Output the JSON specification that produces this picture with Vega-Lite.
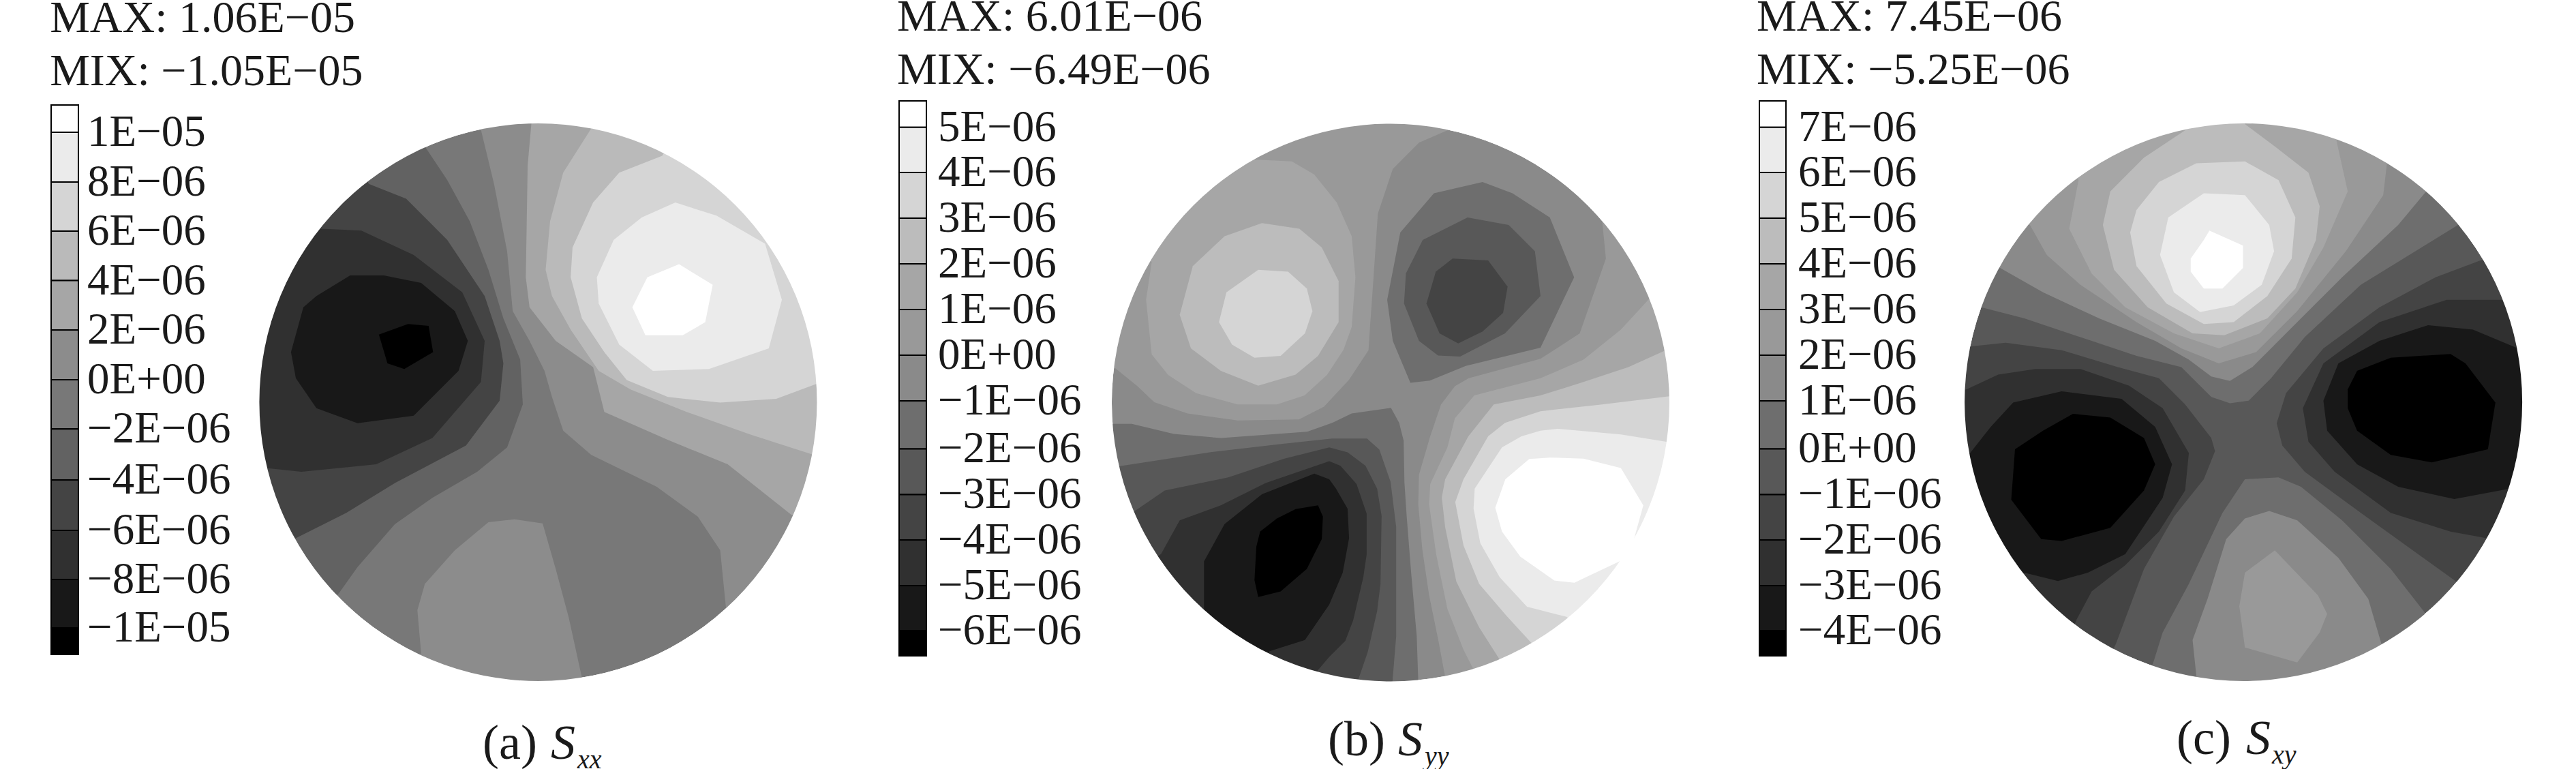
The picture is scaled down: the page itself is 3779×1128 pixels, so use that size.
{"$schema":"https://vega.github.io/schema/vega-lite/v6.json","background":"#ffffff","padding":0,"spacing":0,"bounds":"flush","resolve":{"scale":{"fill":"independent","x":"independent","y":"independent"}},"config":{"view":{"stroke":null},"concat":{"spacing":0}},
"datasets":{
"a":[
{"p":1,"l":"-4E-06","x":480,"y":100},{"p":1,"l":"-4E-06","x":540,"y":190},{"p":1,"l":"-4E-06","x":600,"y":300},{"p":1,"l":"-4E-06","x":650,"y":430},{"p":1,"l":"-4E-06","x":690,"y":560},{"p":1,"l":"-4E-06","x":735,"y":670},{"p":1,"l":"-4E-06","x":742,"y":790},{"p":1,"l":"-4E-06","x":700,"y":905},{"p":1,"l":"-4E-06","x":620,"y":970},{"p":1,"l":"-4E-06","x":500,"y":1040},{"p":1,"l":"-4E-06","x":400,"y":1110},{"p":1,"l":"-4E-06","x":300,"y":1225},{"p":1,"l":"-4E-06","x":250,"y":1295},{"p":1,"l":"-4E-06","x":200,"y":1340},{"p":1,"l":"-4E-06","x":82,"y":1189},{"p":1,"l":"-4E-06","x":1,"y":994},{"p":1,"l":"-4E-06","x":-27,"y":784},{"p":1,"l":"-4E-06","x":1,"y":574},{"p":1,"l":"-4E-06","x":82,"y":379},{"p":1,"l":"-4E-06","x":210,"y":211},{"p":1,"l":"-4E-06","x":378,"y":83},{"p":1,"l":"-4E-06","x":450,"y":40},
{"p":2,"l":"-6E-06","x":300,"y":140},{"p":2,"l":"-6E-06","x":330,"y":200},{"p":2,"l":"-6E-06","x":430,"y":240},{"p":2,"l":"-6E-06","x":540,"y":350},{"p":2,"l":"-6E-06","x":640,"y":500},{"p":2,"l":"-6E-06","x":680,"y":620},{"p":2,"l":"-6E-06","x":690,"y":680},{"p":2,"l":"-6E-06","x":680,"y":780},{"p":2,"l":"-6E-06","x":590,"y":900},{"p":2,"l":"-6E-06","x":400,"y":1000},{"p":2,"l":"-6E-06","x":270,"y":1080},{"p":2,"l":"-6E-06","x":140,"y":1145},{"p":2,"l":"-6E-06","x":70,"y":1180},{"p":2,"l":"-6E-06","x":1,"y":994},{"p":2,"l":"-6E-06","x":-27,"y":784},{"p":2,"l":"-6E-06","x":1,"y":574},{"p":2,"l":"-6E-06","x":82,"y":379},{"p":2,"l":"-6E-06","x":210,"y":211},
{"p":3,"l":"-8E-06","x":130,"y":290},{"p":3,"l":"-8E-06","x":200,"y":320},{"p":3,"l":"-8E-06","x":310,"y":325},{"p":3,"l":"-8E-06","x":450,"y":390},{"p":3,"l":"-8E-06","x":580,"y":490},{"p":3,"l":"-8E-06","x":640,"y":620},{"p":3,"l":"-8E-06","x":630,"y":730},{"p":3,"l":"-8E-06","x":500,"y":880},{"p":3,"l":"-8E-06","x":350,"y":950},{"p":3,"l":"-8E-06","x":150,"y":970},{"p":3,"l":"-8E-06","x":55,"y":960},{"p":3,"l":"-8E-06","x":-5,"y":950},{"p":3,"l":"-8E-06","x":-27,"y":784},{"p":3,"l":"-8E-06","x":1,"y":574},{"p":3,"l":"-8E-06","x":82,"y":379},
{"p":4,"l":"-1E-05","x":280,"y":445},{"p":4,"l":"-1E-05","x":370,"y":445},{"p":4,"l":"-1E-05","x":470,"y":465},{"p":4,"l":"-1E-05","x":560,"y":540},{"p":4,"l":"-1E-05","x":595,"y":620},{"p":4,"l":"-1E-05","x":570,"y":700},{"p":4,"l":"-1E-05","x":450,"y":820},{"p":4,"l":"-1E-05","x":300,"y":840},{"p":4,"l":"-1E-05","x":190,"y":800},{"p":4,"l":"-1E-05","x":135,"y":720},{"p":4,"l":"-1E-05","x":122,"y":650},{"p":4,"l":"-1E-05","x":155,"y":530},{"p":4,"l":"-1E-05","x":190,"y":500},
{"p":5,"l":"min","x":357,"y":603},{"p":5,"l":"min","x":435,"y":575},{"p":5,"l":"min","x":490,"y":580},{"p":5,"l":"min","x":502,"y":650},{"p":5,"l":"min","x":425,"y":695},{"p":5,"l":"min","x":380,"y":680},
{"p":6,"l":"0E+00","x":620,"y":-10},{"p":6,"l":"0E+00","x":630,"y":55},{"p":6,"l":"0E+00","x":665,"y":200},{"p":6,"l":"0E+00","x":700,"y":380},{"p":6,"l":"0E+00","x":715,"y":540},{"p":6,"l":"0E+00","x":760,"y":620},{"p":6,"l":"0E+00","x":800,"y":700},{"p":6,"l":"0E+00","x":820,"y":770},{"p":6,"l":"0E+00","x":850,"y":860},{"p":6,"l":"0E+00","x":925,"y":925},{"p":6,"l":"0E+00","x":1100,"y":1010},{"p":6,"l":"0E+00","x":1210,"y":1090},{"p":6,"l":"0E+00","x":1270,"y":1180},{"p":6,"l":"0E+00","x":1285,"y":1330},{"p":6,"l":"0E+00","x":1320,"y":1390},{"p":6,"l":"0E+00","x":1484,"y":1189},{"p":6,"l":"0E+00","x":1565,"y":994},{"p":6,"l":"0E+00","x":1593,"y":784},{"p":6,"l":"0E+00","x":1565,"y":574},{"p":6,"l":"0E+00","x":1484,"y":379},{"p":6,"l":"0E+00","x":1356,"y":211},{"p":6,"l":"0E+00","x":1188,"y":83},{"p":6,"l":"0E+00","x":993,"y":2},{"p":6,"l":"0E+00","x":783,"y":-26},
{"p":7,"l":"0E+00","x":470,"y":1455},{"p":7,"l":"0E+00","x":460,"y":1340},{"p":7,"l":"0E+00","x":480,"y":1270},{"p":7,"l":"0E+00","x":560,"y":1180},{"p":7,"l":"0E+00","x":650,"y":1105},{"p":7,"l":"0E+00","x":720,"y":1097},{"p":7,"l":"0E+00","x":795,"y":1108},{"p":7,"l":"0E+00","x":830,"y":1230},{"p":7,"l":"0E+00","x":865,"y":1360},{"p":7,"l":"0E+00","x":900,"y":1520},{"p":7,"l":"0E+00","x":915,"y":1585},{"p":7,"l":"0E+00","x":783,"y":1594},{"p":7,"l":"0E+00","x":573,"y":1566},{"p":7,"l":"0E+00","x":450,"y":1530},
{"p":8,"l":"2E-06","x":765,"y":-20},{"p":8,"l":"2E-06","x":765,"y":38},{"p":8,"l":"2E-06","x":755,"y":150},{"p":8,"l":"2E-06","x":750,"y":450},{"p":8,"l":"2E-06","x":760,"y":530},{"p":8,"l":"2E-06","x":830,"y":620},{"p":8,"l":"2E-06","x":930,"y":690},{"p":8,"l":"2E-06","x":960,"y":810},{"p":8,"l":"2E-06","x":1130,"y":885},{"p":8,"l":"2E-06","x":1290,"y":950},{"p":8,"l":"2E-06","x":1460,"y":1085},{"p":8,"l":"2E-06","x":1510,"y":1100},{"p":8,"l":"2E-06","x":1565,"y":994},{"p":8,"l":"2E-06","x":1593,"y":784},{"p":8,"l":"2E-06","x":1565,"y":574},{"p":8,"l":"2E-06","x":1484,"y":379},{"p":8,"l":"2E-06","x":1356,"y":211},{"p":8,"l":"2E-06","x":1188,"y":83},{"p":8,"l":"2E-06","x":993,"y":2},
{"p":9,"l":"4E-06","x":935,"y":-10},{"p":9,"l":"4E-06","x":925,"y":52},{"p":9,"l":"4E-06","x":850,"y":170},{"p":9,"l":"4E-06","x":815,"y":300},{"p":9,"l":"4E-06","x":803,"y":430},{"p":9,"l":"4E-06","x":820,"y":500},{"p":9,"l":"4E-06","x":870,"y":590},{"p":9,"l":"4E-06","x":945,"y":700},{"p":9,"l":"4E-06","x":1030,"y":750},{"p":9,"l":"4E-06","x":1180,"y":810},{"p":9,"l":"4E-06","x":1350,"y":870},{"p":9,"l":"4E-06","x":1520,"y":925},{"p":9,"l":"4E-06","x":1590,"y":950},{"p":9,"l":"4E-06","x":1593,"y":784},{"p":9,"l":"4E-06","x":1565,"y":574},{"p":9,"l":"4E-06","x":1484,"y":379},{"p":9,"l":"4E-06","x":1356,"y":211},{"p":9,"l":"4E-06","x":1188,"y":83},{"p":9,"l":"4E-06","x":1050,"y":10},
{"p":10,"l":"6E-06","x":1150,"y":70},{"p":10,"l":"6E-06","x":1115,"y":125},{"p":10,"l":"6E-06","x":1000,"y":170},{"p":10,"l":"6E-06","x":930,"y":250},{"p":10,"l":"6E-06","x":875,"y":370},{"p":10,"l":"6E-06","x":870,"y":450},{"p":10,"l":"6E-06","x":900,"y":560},{"p":10,"l":"6E-06","x":960,"y":650},{"p":10,"l":"6E-06","x":1020,"y":725},{"p":10,"l":"6E-06","x":1130,"y":770},{"p":10,"l":"6E-06","x":1270,"y":785},{"p":10,"l":"6E-06","x":1420,"y":775},{"p":10,"l":"6E-06","x":1528,"y":735},{"p":10,"l":"6E-06","x":1590,"y":720},{"p":10,"l":"6E-06","x":1565,"y":574},{"p":10,"l":"6E-06","x":1484,"y":379},{"p":10,"l":"6E-06","x":1356,"y":211},{"p":10,"l":"6E-06","x":1188,"y":83},
{"p":11,"l":"8E-06","x":1150,"y":250},{"p":11,"l":"8E-06","x":1260,"y":285},{"p":11,"l":"8E-06","x":1390,"y":360},{"p":11,"l":"8E-06","x":1435,"y":510},{"p":11,"l":"8E-06","x":1400,"y":640},{"p":11,"l":"8E-06","x":1240,"y":695},{"p":11,"l":"8E-06","x":1090,"y":700},{"p":11,"l":"8E-06","x":1000,"y":630},{"p":11,"l":"8E-06","x":945,"y":520},{"p":11,"l":"8E-06","x":940,"y":450},{"p":11,"l":"8E-06","x":985,"y":350},{"p":11,"l":"8E-06","x":1060,"y":290},
{"p":12,"l":"1E-05","x":1160,"y":415},{"p":12,"l":"1E-05","x":1250,"y":470},{"p":12,"l":"1E-05","x":1230,"y":570},{"p":12,"l":"1E-05","x":1170,"y":605},{"p":12,"l":"1E-05","x":1070,"y":605},{"p":12,"l":"1E-05","x":1035,"y":530},{"p":12,"l":"1E-05","x":1075,"y":450}
],
"b":[
{"p":1,"l":"0E+00","x":960,"y":-15},{"p":1,"l":"0E+00","x":940,"y":55},{"p":1,"l":"0E+00","x":860,"y":90},{"p":1,"l":"0E+00","x":790,"y":160},{"p":1,"l":"0E+00","x":750,"y":280},{"p":1,"l":"0E+00","x":735,"y":500},{"p":1,"l":"0E+00","x":729,"y":583},{"p":1,"l":"0E+00","x":725,"y":645},{"p":1,"l":"0E+00","x":673,"y":724},{"p":1,"l":"0E+00","x":606,"y":796},{"p":1,"l":"0E+00","x":539,"y":830},{"p":1,"l":"0E+00","x":375,"y":833},{"p":1,"l":"0E+00","x":241,"y":814},{"p":1,"l":"0E+00","x":152,"y":784},{"p":1,"l":"0E+00","x":107,"y":741},{"p":1,"l":"0E+00","x":44,"y":690},{"p":1,"l":"0E+00","x":-25,"y":680},{"p":1,"l":"0E+00","x":1,"y":574},{"p":1,"l":"0E+00","x":82,"y":379},{"p":1,"l":"0E+00","x":210,"y":211},{"p":1,"l":"0E+00","x":378,"y":83},{"p":1,"l":"0E+00","x":573,"y":2},{"p":1,"l":"0E+00","x":783,"y":-26},
{"p":2,"l":"1E-06","x":420,"y":135},{"p":2,"l":"1E-06","x":520,"y":140},{"p":2,"l":"1E-06","x":580,"y":175},{"p":2,"l":"1E-06","x":640,"y":250},{"p":2,"l":"1E-06","x":680,"y":340},{"p":2,"l":"1E-06","x":690,"y":450},{"p":2,"l":"1E-06","x":680,"y":583},{"p":2,"l":"1E-06","x":658,"y":644},{"p":2,"l":"1E-06","x":614,"y":711},{"p":2,"l":"1E-06","x":554,"y":766},{"p":2,"l":"1E-06","x":480,"y":790},{"p":2,"l":"1E-06","x":375,"y":790},{"p":2,"l":"1E-06","x":264,"y":760},{"p":2,"l":"1E-06","x":189,"y":711},{"p":2,"l":"1E-06","x":145,"y":656},{"p":2,"l":"1E-06","x":130,"y":510},{"p":2,"l":"1E-06","x":145,"y":410},{"p":2,"l":"1E-06","x":105,"y":340},{"p":2,"l":"1E-06","x":210,"y":211},{"p":2,"l":"1E-06","x":400,"y":75},
{"p":3,"l":"2E-06","x":440,"y":305},{"p":3,"l":"2E-06","x":540,"y":320},{"p":3,"l":"2E-06","x":600,"y":370},{"p":3,"l":"2E-06","x":645,"y":460},{"p":3,"l":"2E-06","x":645,"y":570},{"p":3,"l":"2E-06","x":590,"y":660},{"p":3,"l":"2E-06","x":530,"y":710},{"p":3,"l":"2E-06","x":430,"y":740},{"p":3,"l":"2E-06","x":330,"y":700},{"p":3,"l":"2E-06","x":250,"y":640},{"p":3,"l":"2E-06","x":220,"y":550},{"p":3,"l":"2E-06","x":255,"y":420},{"p":3,"l":"2E-06","x":340,"y":340},
{"p":4,"l":"3E-06","x":430,"y":430},{"p":4,"l":"3E-06","x":510,"y":435},{"p":4,"l":"3E-06","x":560,"y":480},{"p":4,"l":"3E-06","x":575,"y":540},{"p":4,"l":"3E-06","x":555,"y":600},{"p":4,"l":"3E-06","x":490,"y":660},{"p":4,"l":"3E-06","x":420,"y":665},{"p":4,"l":"3E-06","x":360,"y":630},{"p":4,"l":"3E-06","x":325,"y":570},{"p":4,"l":"3E-06","x":345,"y":490},
{"p":6,"l":"-2E-06","x":1030,"y":195},{"p":6,"l":"-2E-06","x":1110,"y":225},{"p":6,"l":"-2E-06","x":1210,"y":290},{"p":6,"l":"-2E-06","x":1275,"y":450},{"p":6,"l":"-2E-06","x":1185,"y":638},{"p":6,"l":"-2E-06","x":985,"y":687},{"p":6,"l":"-2E-06","x":889,"y":726},{"p":6,"l":"-2E-06","x":837,"y":732},{"p":6,"l":"-2E-06","x":790,"y":620},{"p":6,"l":"-2E-06","x":775,"y":510},{"p":6,"l":"-2E-06","x":810,"y":330},{"p":6,"l":"-2E-06","x":900,"y":225},
{"p":7,"l":"-3E-06","x":990,"y":290},{"p":7,"l":"-3E-06","x":1100,"y":310},{"p":7,"l":"-3E-06","x":1170,"y":380},{"p":7,"l":"-3E-06","x":1185,"y":500},{"p":7,"l":"-3E-06","x":1090,"y":600},{"p":7,"l":"-3E-06","x":970,"y":662},{"p":7,"l":"-3E-06","x":911,"y":659},{"p":7,"l":"-3E-06","x":860,"y":620},{"p":7,"l":"-3E-06","x":820,"y":520},{"p":7,"l":"-3E-06","x":825,"y":440},{"p":7,"l":"-3E-06","x":870,"y":350},
{"p":8,"l":"-4E-06","x":950,"y":400},{"p":8,"l":"-4E-06","x":1045,"y":405},{"p":8,"l":"-4E-06","x":1097,"y":475},{"p":8,"l":"-4E-06","x":1085,"y":545},{"p":8,"l":"-4E-06","x":1030,"y":595},{"p":8,"l":"-4E-06","x":965,"y":627},{"p":8,"l":"-4E-06","x":915,"y":600},{"p":8,"l":"-4E-06","x":880,"y":520},{"p":8,"l":"-4E-06","x":905,"y":435},
{"p":9,"l":"-2E-06","x":-20,"y":842},{"p":9,"l":"-2E-06","x":40,"y":842},{"p":9,"l":"-2E-06","x":92,"y":842},{"p":9,"l":"-2E-06","x":204,"y":869},{"p":9,"l":"-2E-06","x":331,"y":880},{"p":9,"l":"-2E-06","x":561,"y":863},{"p":9,"l":"-2E-06","x":628,"y":839},{"p":9,"l":"-2E-06","x":680,"y":814},{"p":9,"l":"-2E-06","x":785,"y":799},{"p":9,"l":"-2E-06","x":807,"y":839},{"p":9,"l":"-2E-06","x":819,"y":887},{"p":9,"l":"-2E-06","x":821,"y":997},{"p":9,"l":"-2E-06","x":827,"y":1088},{"p":9,"l":"-2E-06","x":839,"y":1240},{"p":9,"l":"-2E-06","x":854,"y":1410},{"p":9,"l":"-2E-06","x":858,"y":1528},{"p":9,"l":"-2E-06","x":865,"y":1590},{"p":9,"l":"-2E-06","x":783,"y":1594},{"p":9,"l":"-2E-06","x":573,"y":1566},{"p":9,"l":"-2E-06","x":378,"y":1485},{"p":9,"l":"-2E-06","x":210,"y":1357},{"p":9,"l":"-2E-06","x":82,"y":1189},{"p":9,"l":"-2E-06","x":1,"y":994},
{"p":10,"l":"-3E-06","x":-10,"y":960},{"p":10,"l":"-3E-06","x":60,"y":955},{"p":10,"l":"-3E-06","x":300,"y":918},{"p":10,"l":"-3E-06","x":500,"y":895},{"p":10,"l":"-3E-06","x":628,"y":881},{"p":10,"l":"-3E-06","x":721,"y":881},{"p":10,"l":"-3E-06","x":754,"y":911},{"p":10,"l":"-3E-06","x":784,"y":997},{"p":10,"l":"-3E-06","x":799,"y":1118},{"p":10,"l":"-3E-06","x":799,"y":1300},{"p":10,"l":"-3E-06","x":799,"y":1410},{"p":10,"l":"-3E-06","x":789,"y":1531},{"p":10,"l":"-3E-06","x":789,"y":1594},{"p":10,"l":"-3E-06","x":573,"y":1566},{"p":10,"l":"-3E-06","x":378,"y":1485},{"p":10,"l":"-3E-06","x":210,"y":1357},{"p":10,"l":"-3E-06","x":82,"y":1189},{"p":10,"l":"-3E-06","x":1,"y":994},
{"p":11,"l":"-4E-06","x":30,"y":1110},{"p":11,"l":"-4E-06","x":100,"y":1075},{"p":11,"l":"-4E-06","x":180,"y":1020},{"p":11,"l":"-4E-06","x":350,"y":985},{"p":11,"l":"-4E-06","x":500,"y":935},{"p":11,"l":"-4E-06","x":620,"y":905},{"p":11,"l":"-4E-06","x":669,"y":918},{"p":11,"l":"-4E-06","x":717,"y":954},{"p":11,"l":"-4E-06","x":748,"y":1015},{"p":11,"l":"-4E-06","x":760,"y":1088},{"p":11,"l":"-4E-06","x":757,"y":1270},{"p":11,"l":"-4E-06","x":748,"y":1343},{"p":11,"l":"-4E-06","x":723,"y":1452},{"p":11,"l":"-4E-06","x":698,"y":1525},{"p":11,"l":"-4E-06","x":690,"y":1590},{"p":11,"l":"-4E-06","x":573,"y":1566},{"p":11,"l":"-4E-06","x":378,"y":1485},{"p":11,"l":"-4E-06","x":210,"y":1357},{"p":11,"l":"-4E-06","x":82,"y":1189},
{"p":12,"l":"-5E-06","x":110,"y":1230},{"p":12,"l":"-5E-06","x":170,"y":1190},{"p":12,"l":"-5E-06","x":220,"y":1100},{"p":12,"l":"-5E-06","x":330,"y":1060},{"p":12,"l":"-5E-06","x":450,"y":1000},{"p":12,"l":"-5E-06","x":620,"y":942},{"p":12,"l":"-5E-06","x":650,"y":954},{"p":12,"l":"-5E-06","x":693,"y":1003},{"p":12,"l":"-5E-06","x":720,"y":1082},{"p":12,"l":"-5E-06","x":720,"y":1191},{"p":12,"l":"-5E-06","x":711,"y":1252},{"p":12,"l":"-5E-06","x":684,"y":1367},{"p":12,"l":"-5E-06","x":663,"y":1422},{"p":12,"l":"-5E-06","x":620,"y":1465},{"p":12,"l":"-5E-06","x":590,"y":1500},{"p":12,"l":"-5E-06","x":570,"y":1570},{"p":12,"l":"-5E-06","x":378,"y":1485},{"p":12,"l":"-5E-06","x":210,"y":1357},
{"p":13,"l":"-6E-06","x":620,"y":990},{"p":13,"l":"-6E-06","x":638,"y":1015},{"p":13,"l":"-6E-06","x":669,"y":1069},{"p":13,"l":"-6E-06","x":673,"y":1148},{"p":13,"l":"-6E-06","x":656,"y":1240},{"p":13,"l":"-6E-06","x":620,"y":1325},{"p":13,"l":"-6E-06","x":555,"y":1420},{"p":13,"l":"-6E-06","x":460,"y":1450},{"p":13,"l":"-6E-06","x":430,"y":1515},{"p":13,"l":"-6E-06","x":300,"y":1440},{"p":13,"l":"-6E-06","x":240,"y":1380},{"p":13,"l":"-6E-06","x":285,"y":1340},{"p":13,"l":"-6E-06","x":285,"y":1210},{"p":13,"l":"-6E-06","x":340,"y":1110},{"p":13,"l":"-6E-06","x":440,"y":1030},{"p":13,"l":"-6E-06","x":580,"y":975},
{"p":14,"l":"min","x":590,"y":1060},{"p":14,"l":"min","x":603,"y":1090},{"p":14,"l":"min","x":600,"y":1150},{"p":14,"l":"min","x":560,"y":1230},{"p":14,"l":"min","x":490,"y":1290},{"p":14,"l":"min","x":430,"y":1305},{"p":14,"l":"min","x":420,"y":1260},{"p":14,"l":"min","x":425,"y":1170},{"p":14,"l":"min","x":435,"y":1130},{"p":14,"l":"min","x":480,"y":1095},{"p":14,"l":"min","x":530,"y":1070},
{"p":15,"l":"0E+00","x":930,"y":1519},{"p":15,"l":"0E+00","x":912,"y":1422},{"p":15,"l":"0E+00","x":887,"y":1300},{"p":15,"l":"0E+00","x":869,"y":1179},{"p":15,"l":"0E+00","x":858,"y":1057},{"p":15,"l":"0E+00","x":860,"y":978},{"p":15,"l":"0E+00","x":890,"y":875},{"p":15,"l":"0E+00","x":919,"y":790},{"p":15,"l":"0E+00","x":956,"y":741},{"p":15,"l":"0E+00","x":993,"y":720},{"p":15,"l":"0E+00","x":1185,"y":668},{"p":15,"l":"0E+00","x":1290,"y":600},{"p":15,"l":"0E+00","x":1360,"y":400},{"p":15,"l":"0E+00","x":1350,"y":300},{"p":15,"l":"0E+00","x":1400,"y":250},{"p":15,"l":"0E+00","x":1484,"y":379},{"p":15,"l":"0E+00","x":1565,"y":574},{"p":15,"l":"0E+00","x":1593,"y":784},{"p":15,"l":"0E+00","x":1565,"y":994},{"p":15,"l":"0E+00","x":1484,"y":1189},{"p":15,"l":"0E+00","x":1356,"y":1357},{"p":15,"l":"0E+00","x":1188,"y":1485},{"p":15,"l":"0E+00","x":993,"y":1566},{"p":15,"l":"0E+00","x":945,"y":1590},
{"p":16,"l":"1E-06","x":1004,"y":1495},{"p":16,"l":"1E-06","x":979,"y":1446},{"p":16,"l":"1E-06","x":936,"y":1337},{"p":16,"l":"1E-06","x":906,"y":1191},{"p":16,"l":"1E-06","x":887,"y":1057},{"p":16,"l":"1E-06","x":890,"y":1003},{"p":16,"l":"1E-06","x":936,"y":905},{"p":16,"l":"1E-06","x":956,"y":827},{"p":16,"l":"1E-06","x":1008,"y":766},{"p":16,"l":"1E-06","x":1185,"y":720},{"p":16,"l":"1E-06","x":1300,"y":670},{"p":16,"l":"1E-06","x":1400,"y":590},{"p":16,"l":"1E-06","x":1478,"y":505},{"p":16,"l":"1E-06","x":1560,"y":480},{"p":16,"l":"1E-06","x":1593,"y":784},{"p":16,"l":"1E-06","x":1565,"y":994},{"p":16,"l":"1E-06","x":1484,"y":1189},{"p":16,"l":"1E-06","x":1356,"y":1357},{"p":16,"l":"1E-06","x":1188,"y":1485},{"p":16,"l":"1E-06","x":1030,"y":1560},
{"p":17,"l":"2E-06","x":1077,"y":1474},{"p":17,"l":"2E-06","x":1021,"y":1386},{"p":17,"l":"2E-06","x":960,"y":1264},{"p":17,"l":"2E-06","x":930,"y":1118},{"p":17,"l":"2E-06","x":921,"y":1039},{"p":17,"l":"2E-06","x":930,"y":990},{"p":17,"l":"2E-06","x":992,"y":875},{"p":17,"l":"2E-06","x":1060,"y":790},{"p":17,"l":"2E-06","x":1185,"y":766},{"p":17,"l":"2E-06","x":1300,"y":730},{"p":17,"l":"2E-06","x":1420,"y":690},{"p":17,"l":"2E-06","x":1520,"y":645},{"p":17,"l":"2E-06","x":1590,"y":630},{"p":17,"l":"2E-06","x":1593,"y":784},{"p":17,"l":"2E-06","x":1565,"y":994},{"p":17,"l":"2E-06","x":1484,"y":1189},{"p":17,"l":"2E-06","x":1356,"y":1357},{"p":17,"l":"2E-06","x":1188,"y":1485},{"p":17,"l":"2E-06","x":1110,"y":1530},
{"p":18,"l":"3E-06","x":1161,"y":1428},{"p":18,"l":"3E-06","x":1094,"y":1355},{"p":18,"l":"3E-06","x":1021,"y":1270},{"p":18,"l":"3E-06","x":979,"y":1167},{"p":18,"l":"3E-06","x":957,"y":1051},{"p":18,"l":"3E-06","x":979,"y":990},{"p":18,"l":"3E-06","x":1045,"y":875},{"p":18,"l":"3E-06","x":1090,"y":839},{"p":18,"l":"3E-06","x":1185,"y":808},{"p":18,"l":"3E-06","x":1350,"y":790},{"p":18,"l":"3E-06","x":1530,"y":768},{"p":18,"l":"3E-06","x":1595,"y":760},{"p":18,"l":"3E-06","x":1565,"y":994},{"p":18,"l":"3E-06","x":1484,"y":1189},{"p":18,"l":"3E-06","x":1356,"y":1357},{"p":18,"l":"3E-06","x":1210,"y":1470},
{"p":19,"l":"4E-06","x":1255,"y":1358},{"p":19,"l":"4E-06","x":1149,"y":1331},{"p":19,"l":"4E-06","x":1076,"y":1252},{"p":19,"l":"4E-06","x":1024,"y":1161},{"p":19,"l":"4E-06","x":1006,"y":1069},{"p":19,"l":"4E-06","x":1009,"y":1015},{"p":19,"l":"4E-06","x":1082,"y":905},{"p":19,"l":"4E-06","x":1134,"y":875},{"p":19,"l":"4E-06","x":1185,"y":860},{"p":19,"l":"4E-06","x":1230,"y":855},{"p":19,"l":"4E-06","x":1400,"y":870},{"p":19,"l":"4E-06","x":1522,"y":890},{"p":19,"l":"4E-06","x":1590,"y":900},{"p":19,"l":"4E-06","x":1565,"y":994},{"p":19,"l":"4E-06","x":1484,"y":1189},{"p":19,"l":"4E-06","x":1356,"y":1357},{"p":19,"l":"4E-06","x":1300,"y":1395},
{"p":20,"l":"5E-06","x":1155,"y":936},{"p":20,"l":"5E-06","x":1210,"y":932},{"p":20,"l":"5E-06","x":1300,"y":935},{"p":20,"l":"5E-06","x":1400,"y":960},{"p":20,"l":"5E-06","x":1460,"y":1060},{"p":20,"l":"5E-06","x":1435,"y":1150},{"p":20,"l":"5E-06","x":1500,"y":1160},{"p":20,"l":"5E-06","x":1450,"y":1260},{"p":20,"l":"5E-06","x":1400,"y":1208},{"p":20,"l":"5E-06","x":1313,"y":1249},{"p":20,"l":"5E-06","x":1276,"y":1267},{"p":20,"l":"5E-06","x":1222,"y":1261},{"p":20,"l":"5E-06","x":1131,"y":1197},{"p":20,"l":"5E-06","x":1082,"y":1130},{"p":20,"l":"5E-06","x":1064,"y":1066},{"p":20,"l":"5E-06","x":1091,"y":990}
],
"c":[
{"p":1,"l":"0E+00","x":10,"y":520},{"p":1,"l":"0E+00","x":85,"y":530},{"p":1,"l":"0E+00","x":200,"y":560},{"p":1,"l":"0E+00","x":350,"y":610},{"p":1,"l":"0E+00","x":500,"y":660},{"p":1,"l":"0E+00","x":620,"y":690},{"p":1,"l":"0E+00","x":700,"y":770},{"p":1,"l":"0E+00","x":750,"y":787},{"p":1,"l":"0E+00","x":800,"y":780},{"p":1,"l":"0E+00","x":860,"y":720},{"p":1,"l":"0E+00","x":950,"y":610},{"p":1,"l":"0E+00","x":1100,"y":470},{"p":1,"l":"0E+00","x":1360,"y":310},{"p":1,"l":"0E+00","x":1420,"y":270},{"p":1,"l":"0E+00","x":1356,"y":211},{"p":1,"l":"0E+00","x":1188,"y":83},{"p":1,"l":"0E+00","x":993,"y":2},{"p":1,"l":"0E+00","x":783,"y":-26},{"p":1,"l":"0E+00","x":573,"y":2},{"p":1,"l":"0E+00","x":378,"y":83},{"p":1,"l":"0E+00","x":210,"y":211},{"p":1,"l":"0E+00","x":82,"y":379},
{"p":2,"l":"1E-06","x":70,"y":395},{"p":2,"l":"1E-06","x":135,"y":425},{"p":2,"l":"1E-06","x":250,"y":490},{"p":2,"l":"1E-06","x":400,"y":560},{"p":2,"l":"1E-06","x":550,"y":620},{"p":2,"l":"1E-06","x":640,"y":670},{"p":2,"l":"1E-06","x":700,"y":715},{"p":2,"l":"1E-06","x":750,"y":727},{"p":2,"l":"1E-06","x":810,"y":690},{"p":2,"l":"1E-06","x":900,"y":600},{"p":2,"l":"1E-06","x":1050,"y":450},{"p":2,"l":"1E-06","x":1200,"y":310},{"p":2,"l":"1E-06","x":1275,"y":220},{"p":2,"l":"1E-06","x":1330,"y":185},{"p":2,"l":"1E-06","x":1188,"y":83},{"p":2,"l":"1E-06","x":993,"y":2},{"p":2,"l":"1E-06","x":783,"y":-26},{"p":2,"l":"1E-06","x":573,"y":2},{"p":2,"l":"1E-06","x":378,"y":83},{"p":2,"l":"1E-06","x":210,"y":211},
{"p":3,"l":"2E-06","x":160,"y":270},{"p":3,"l":"2E-06","x":215,"y":310},{"p":3,"l":"2E-06","x":260,"y":390},{"p":3,"l":"2E-06","x":350,"y":470},{"p":3,"l":"2E-06","x":500,"y":570},{"p":3,"l":"2E-06","x":620,"y":640},{"p":3,"l":"2E-06","x":720,"y":680},{"p":3,"l":"2E-06","x":820,"y":650},{"p":3,"l":"2E-06","x":930,"y":540},{"p":3,"l":"2E-06","x":1060,"y":380},{"p":3,"l":"2E-06","x":1160,"y":230},{"p":3,"l":"2E-06","x":1170,"y":145},{"p":3,"l":"2E-06","x":1210,"y":90},{"p":3,"l":"2E-06","x":993,"y":2},{"p":3,"l":"2E-06","x":783,"y":-26},{"p":3,"l":"2E-06","x":573,"y":2},{"p":3,"l":"2E-06","x":378,"y":83},
{"p":4,"l":"3E-06","x":310,"y":130},{"p":4,"l":"3E-06","x":345,"y":190},{"p":4,"l":"3E-06","x":320,"y":320},{"p":4,"l":"3E-06","x":380,"y":440},{"p":4,"l":"3E-06","x":470,"y":530},{"p":4,"l":"3E-06","x":600,"y":600},{"p":4,"l":"3E-06","x":720,"y":640},{"p":4,"l":"3E-06","x":830,"y":600},{"p":4,"l":"3E-06","x":930,"y":490},{"p":4,"l":"3E-06","x":1000,"y":370},{"p":4,"l":"3E-06","x":1065,"y":220},{"p":4,"l":"3E-06","x":1035,"y":85},{"p":4,"l":"3E-06","x":1060,"y":20},{"p":4,"l":"3E-06","x":993,"y":2},{"p":4,"l":"3E-06","x":783,"y":-26},{"p":4,"l":"3E-06","x":573,"y":2},{"p":4,"l":"3E-06","x":378,"y":83},
{"p":5,"l":"4E-06","x":620,"y":-15},{"p":5,"l":"4E-06","x":640,"y":50},{"p":5,"l":"4E-06","x":520,"y":130},{"p":5,"l":"4E-06","x":430,"y":220},{"p":5,"l":"4E-06","x":410,"y":310},{"p":5,"l":"4E-06","x":440,"y":430},{"p":5,"l":"4E-06","x":530,"y":530},{"p":5,"l":"4E-06","x":650,"y":600},{"p":5,"l":"4E-06","x":735,"y":605},{"p":5,"l":"4E-06","x":850,"y":560},{"p":5,"l":"4E-06","x":925,"y":480},{"p":5,"l":"4E-06","x":980,"y":350},{"p":5,"l":"4E-06","x":990,"y":260},{"p":5,"l":"4E-06","x":960,"y":170},{"p":5,"l":"4E-06","x":870,"y":100},{"p":5,"l":"4E-06","x":790,"y":40},{"p":5,"l":"4E-06","x":790,"y":-20},
{"p":6,"l":"5E-06","x":660,"y":145},{"p":6,"l":"5E-06","x":790,"y":140},{"p":6,"l":"5E-06","x":880,"y":190},{"p":6,"l":"5E-06","x":925,"y":290},{"p":6,"l":"5E-06","x":915,"y":400},{"p":6,"l":"5E-06","x":850,"y":500},{"p":6,"l":"5E-06","x":760,"y":570},{"p":6,"l":"5E-06","x":680,"y":575},{"p":6,"l":"5E-06","x":580,"y":520},{"p":6,"l":"5E-06","x":500,"y":420},{"p":6,"l":"5E-06","x":483,"y":330},{"p":6,"l":"5E-06","x":500,"y":270},{"p":6,"l":"5E-06","x":560,"y":195},
{"p":7,"l":"6E-06","x":680,"y":225},{"p":7,"l":"6E-06","x":790,"y":230},{"p":7,"l":"6E-06","x":855,"y":310},{"p":7,"l":"6E-06","x":868,"y":380},{"p":7,"l":"6E-06","x":835,"y":470},{"p":7,"l":"6E-06","x":760,"y":525},{"p":7,"l":"6E-06","x":670,"y":543},{"p":7,"l":"6E-06","x":600,"y":490},{"p":7,"l":"6E-06","x":563,"y":390},{"p":7,"l":"6E-06","x":585,"y":290},
{"p":8,"l":"7E-06","x":695,"y":325},{"p":8,"l":"7E-06","x":785,"y":365},{"p":8,"l":"7E-06","x":785,"y":425},{"p":8,"l":"7E-06","x":730,"y":480},{"p":8,"l":"7E-06","x":680,"y":480},{"p":8,"l":"7E-06","x":645,"y":435},{"p":8,"l":"7E-06","x":645,"y":400},{"p":8,"l":"7E-06","x":680,"y":350},
{"p":9,"l":"-2E-06","x":-15,"y":640},{"p":9,"l":"-2E-06","x":55,"y":635},{"p":9,"l":"-2E-06","x":150,"y":625},{"p":9,"l":"-2E-06","x":300,"y":645},{"p":9,"l":"-2E-06","x":450,"y":690},{"p":9,"l":"-2E-06","x":560,"y":720},{"p":9,"l":"-2E-06","x":630,"y":790},{"p":9,"l":"-2E-06","x":700,"y":880},{"p":9,"l":"-2E-06","x":710,"y":915},{"p":9,"l":"-2E-06","x":680,"y":990},{"p":9,"l":"-2E-06","x":600,"y":1090},{"p":9,"l":"-2E-06","x":520,"y":1230},{"p":9,"l":"-2E-06","x":445,"y":1430},{"p":9,"l":"-2E-06","x":410,"y":1500},{"p":9,"l":"-2E-06","x":210,"y":1357},{"p":9,"l":"-2E-06","x":82,"y":1189},{"p":9,"l":"-2E-06","x":1,"y":994},{"p":9,"l":"-2E-06","x":-27,"y":784},
{"p":10,"l":"-3E-06","x":-27,"y":760},{"p":10,"l":"-3E-06","x":45,"y":750},{"p":10,"l":"-3E-06","x":130,"y":710},{"p":10,"l":"-3E-06","x":230,"y":695},{"p":10,"l":"-3E-06","x":350,"y":695},{"p":10,"l":"-3E-06","x":480,"y":740},{"p":10,"l":"-3E-06","x":570,"y":800},{"p":10,"l":"-3E-06","x":640,"y":920},{"p":10,"l":"-3E-06","x":630,"y":1020},{"p":10,"l":"-3E-06","x":560,"y":1130},{"p":10,"l":"-3E-06","x":470,"y":1220},{"p":10,"l":"-3E-06","x":380,"y":1290},{"p":10,"l":"-3E-06","x":340,"y":1365},{"p":10,"l":"-3E-06","x":310,"y":1440},{"p":10,"l":"-3E-06","x":210,"y":1357},{"p":10,"l":"-3E-06","x":82,"y":1189},{"p":10,"l":"-3E-06","x":1,"y":994},
{"p":11,"l":"-4E-06","x":-15,"y":940},{"p":11,"l":"-4E-06","x":55,"y":920},{"p":11,"l":"-4E-06","x":110,"y":850},{"p":11,"l":"-4E-06","x":170,"y":785},{"p":11,"l":"-4E-06","x":300,"y":755},{"p":11,"l":"-4E-06","x":460,"y":775},{"p":11,"l":"-4E-06","x":550,"y":850},{"p":11,"l":"-4E-06","x":595,"y":950},{"p":11,"l":"-4E-06","x":570,"y":1040},{"p":11,"l":"-4E-06","x":470,"y":1190},{"p":11,"l":"-4E-06","x":370,"y":1240},{"p":11,"l":"-4E-06","x":290,"y":1262},{"p":11,"l":"-4E-06","x":200,"y":1240},{"p":11,"l":"-4E-06","x":150,"y":1290},{"p":11,"l":"-4E-06","x":82,"y":1189},{"p":11,"l":"-4E-06","x":1,"y":994},
{"p":12,"l":"min","x":330,"y":815},{"p":12,"l":"min","x":430,"y":825},{"p":12,"l":"min","x":520,"y":880},{"p":12,"l":"min","x":550,"y":950},{"p":12,"l":"min","x":520,"y":1020},{"p":12,"l":"min","x":430,"y":1120},{"p":12,"l":"min","x":300,"y":1155},{"p":12,"l":"min","x":245,"y":1150},{"p":12,"l":"min","x":165,"y":1045},{"p":12,"l":"min","x":175,"y":910},{"p":12,"l":"min","x":250,"y":860},
{"p":13,"l":"-2E-06","x":1490,"y":390},{"p":13,"l":"-2E-06","x":1420,"y":405},{"p":13,"l":"-2E-06","x":1300,"y":450},{"p":13,"l":"-2E-06","x":1150,"y":530},{"p":13,"l":"-2E-06","x":1000,"y":640},{"p":13,"l":"-2E-06","x":900,"y":760},{"p":13,"l":"-2E-06","x":875,"y":840},{"p":13,"l":"-2E-06","x":890,"y":900},{"p":13,"l":"-2E-06","x":950,"y":970},{"p":13,"l":"-2E-06","x":1100,"y":1080},{"p":13,"l":"-2E-06","x":1350,"y":1260},{"p":13,"l":"-2E-06","x":1400,"y":1300},{"p":13,"l":"-2E-06","x":1484,"y":1189},{"p":13,"l":"-2E-06","x":1565,"y":994},{"p":13,"l":"-2E-06","x":1593,"y":784},{"p":13,"l":"-2E-06","x":1565,"y":574},
{"p":14,"l":"-3E-06","x":1550,"y":490},{"p":14,"l":"-3E-06","x":1480,"y":510},{"p":14,"l":"-3E-06","x":1330,"y":510},{"p":14,"l":"-3E-06","x":1150,"y":570},{"p":14,"l":"-3E-06","x":1000,"y":680},{"p":14,"l":"-3E-06","x":945,"y":800},{"p":14,"l":"-3E-06","x":960,"y":890},{"p":14,"l":"-3E-06","x":1030,"y":970},{"p":14,"l":"-3E-06","x":1180,"y":1080},{"p":14,"l":"-3E-06","x":1340,"y":1130},{"p":14,"l":"-3E-06","x":1450,"y":1150},{"p":14,"l":"-3E-06","x":1510,"y":1180},{"p":14,"l":"-3E-06","x":1565,"y":994},{"p":14,"l":"-3E-06","x":1593,"y":784},{"p":14,"l":"-3E-06","x":1565,"y":574},
{"p":15,"l":"-4E-06","x":1590,"y":625},{"p":15,"l":"-4E-06","x":1520,"y":640},{"p":15,"l":"-4E-06","x":1400,"y":590},{"p":15,"l":"-4E-06","x":1280,"y":578},{"p":15,"l":"-4E-06","x":1150,"y":620},{"p":15,"l":"-4E-06","x":1040,"y":680},{"p":15,"l":"-4E-06","x":1000,"y":780},{"p":15,"l":"-4E-06","x":1010,"y":860},{"p":15,"l":"-4E-06","x":1090,"y":950},{"p":15,"l":"-4E-06","x":1200,"y":1010},{"p":15,"l":"-4E-06","x":1350,"y":1043},{"p":15,"l":"-4E-06","x":1525,"y":1010},{"p":15,"l":"-4E-06","x":1590,"y":1030},{"p":15,"l":"-4E-06","x":1593,"y":784},
{"p":16,"l":"min","x":1090,"y":700},{"p":16,"l":"min","x":1180,"y":665},{"p":16,"l":"min","x":1340,"y":655},{"p":16,"l":"min","x":1380,"y":680},{"p":16,"l":"min","x":1460,"y":785},{"p":16,"l":"min","x":1440,"y":910},{"p":16,"l":"min","x":1290,"y":945},{"p":16,"l":"min","x":1180,"y":925},{"p":16,"l":"min","x":1090,"y":860},{"p":16,"l":"min","x":1065,"y":800},{"p":16,"l":"min","x":1065,"y":750},
{"p":17,"l":"0E+00","x":520,"y":1545},{"p":17,"l":"0E+00","x":545,"y":1480},{"p":17,"l":"0E+00","x":570,"y":1400},{"p":17,"l":"0E+00","x":640,"y":1270},{"p":17,"l":"0E+00","x":730,"y":1080},{"p":17,"l":"0E+00","x":790,"y":990},{"p":17,"l":"0E+00","x":880,"y":985},{"p":17,"l":"0E+00","x":940,"y":1010},{"p":17,"l":"0E+00","x":1050,"y":1100},{"p":17,"l":"0E+00","x":1180,"y":1230},{"p":17,"l":"0E+00","x":1270,"y":1345},{"p":17,"l":"0E+00","x":1310,"y":1390},{"p":17,"l":"0E+00","x":1188,"y":1485},{"p":17,"l":"0E+00","x":993,"y":1566},{"p":17,"l":"0E+00","x":783,"y":1594},{"p":17,"l":"0E+00","x":573,"y":1566},
{"p":18,"l":"1E-06","x":650,"y":1585},{"p":18,"l":"1E-06","x":660,"y":1515},{"p":18,"l":"1E-06","x":650,"y":1420},{"p":18,"l":"1E-06","x":690,"y":1310},{"p":18,"l":"1E-06","x":740,"y":1150},{"p":18,"l":"1E-06","x":790,"y":1095},{"p":18,"l":"1E-06","x":855,"y":1075},{"p":18,"l":"1E-06","x":930,"y":1100},{"p":18,"l":"1E-06","x":1040,"y":1200},{"p":18,"l":"1E-06","x":1120,"y":1310},{"p":18,"l":"1E-06","x":1155,"y":1430},{"p":18,"l":"1E-06","x":1180,"y":1490},{"p":18,"l":"1E-06","x":993,"y":1566},{"p":18,"l":"1E-06","x":783,"y":1594},
{"p":19,"l":"2E-06","x":870,"y":1180},{"p":19,"l":"2E-06","x":985,"y":1300},{"p":19,"l":"2E-06","x":1010,"y":1350},{"p":19,"l":"2E-06","x":990,"y":1400},{"p":19,"l":"2E-06","x":930,"y":1480},{"p":19,"l":"2E-06","x":790,"y":1440},{"p":19,"l":"2E-06","x":775,"y":1330},{"p":19,"l":"2E-06","x":790,"y":1240}
]
},
"hconcat":[
{"width":1253,"height":1128,
"encoding":{"x":{"field":"x","type":"quantitative","axis":null,"scale":{"domain":[-656.4,1628.2],"nice":false,"zero":false}},"y":{"field":"y","type":"quantitative","axis":null,"scale":{"domain":[1765,-291.7],"nice":false,"zero":false}},"fill":{"field":"l","type":"nominal","legend":null,"scale":{"domain":["1E-05","8E-06","6E-06","4E-06","2E-06","0E+00","-2E-06","-4E-06","-6E-06","-8E-06","-1E-05","min"],"range":["#ffffff","#ebebeb","#d5d5d5","#bababa","#a6a6a6","#8c8c8c","#787878","#626262","#444444","#303030","#181818","#000000"]}}},
"layer":[
{"data":{"values":[{"l":"-2E-06","x":783,"y":784}]},"mark":{"type":"arc","radius":409,"theta":0,"theta2":6.2832}},
{"data":{"name":"a"},"mark":{"type":"line","filled":true,"interpolate":"linear-closed","strokeWidth":0,"order":null},"encoding":{"detail":{"field":"p"},"order":{"value":null}}},
{"data":{"values":[{"x":783,"y":784}]},"mark":{"type":"arc","radius":470,"radius2":409,"theta":0,"theta2":6.2832},"encoding":{"fill":{"value":"#ffffff"}}},
{"data":{"values":[{"l":"1E-05","x":-519.6,"x2":-446.7,"y":-10.9,"y2":62},{"l":"8E-06","x":-519.6,"x2":-446.7,"y":62,"y2":195},{"l":"6E-06","x":-519.6,"x2":-446.7,"y":195,"y2":326.4},{"l":"4E-06","x":-519.6,"x2":-446.7,"y":326.4,"y2":458.6},{"l":"2E-06","x":-519.6,"x2":-446.7,"y":458.6,"y2":590.8},{"l":"0E+00","x":-519.6,"x2":-446.7,"y":590.8,"y2":723.9},{"l":"-2E-06","x":-519.6,"x2":-446.7,"y":723.9,"y2":855.6},{"l":"-4E-06","x":-519.6,"x2":-446.7,"y":855.6,"y2":991.9},{"l":"-6E-06","x":-519.6,"x2":-446.7,"y":991.9,"y2":1126.8},{"l":"-8E-06","x":-519.6,"x2":-446.7,"y":1126.8,"y2":1258},{"l":"-1E-05","x":-519.6,"x2":-446.7,"y":1258,"y2":1387.5},{"l":"min","x":-519.6,"x2":-446.7,"y":1387.5,"y2":1458.6}]},"mark":{"type":"rect","stroke":"#000000","strokeWidth":2},"encoding":{"x2":{"field":"x2"},"y2":{"field":"y2"}}},
{"data":{"values":[{"t":"1E−05","x":-423,"y":62},{"t":"8E−06","x":-423,"y":195},{"t":"6E−06","x":-423,"y":326.4},{"t":"4E−06","x":-423,"y":458.6},{"t":"2E−06","x":-423,"y":590.8},{"t":"0E+00","x":-423,"y":723.9},{"t":"−2E−06","x":-423,"y":855.6},{"t":"−4E−06","x":-423,"y":991.9},{"t":"−6E−06","x":-423,"y":1126.8},{"t":"−8E−06","x":-423,"y":1258},{"t":"−1E−05","x":-423,"y":1387.5}]},"mark":{"type":"text","align":"left","baseline":"middle","font":"Liberation Serif","fontSize":65},"encoding":{"text":{"field":"t"},"fill":{"value":"#1a1a1a"}}},
{"data":{"values":[{"t":"MAX: 1.06E−05","x":-523,"y":-206},{"t":"MIX: −1.05E−05","x":-523,"y":-64}]},"mark":{"type":"text","clip":true,"align":"left","baseline":"alphabetic","font":"Liberation Serif","fontSize":66},"encoding":{"text":{"field":"t"},"fill":{"value":"#1a1a1a"}}},
{"data":{"values":[{"t":"(a)","x":634.5,"y":1737.6}]},"mark":{"type":"text","clip":true,"align":"left","baseline":"alphabetic","font":"Liberation Serif","fontSize":72},"encoding":{"text":{"field":"t"},"fill":{"value":"#1a1a1a"}}},
{"data":{"values":[{"t":"S","x":816.8,"y":1737.6}]},"mark":{"type":"text","clip":true,"align":"left","baseline":"alphabetic","font":"Liberation Serif","fontStyle":"italic","fontSize":72},"encoding":{"text":{"field":"t"},"fill":{"value":"#1a1a1a"}}},
{"data":{"values":[{"t":"xx","x":888,"y":1763}]},"mark":{"type":"text","clip":true,"align":"left","baseline":"alphabetic","font":"Liberation Serif","fontStyle":"italic","fontSize":40},"encoding":{"text":{"field":"t"},"fill":{"value":"#1a1a1a"}}}
]},
{"width":1265,"height":1128,
"encoding":{"x":{"field":"x","type":"quantitative","axis":null,"scale":{"domain":[-650.9,1655.6],"nice":false,"zero":false}},"y":{"field":"y","type":"quantitative","axis":null,"scale":{"domain":[1765,-291.7],"nice":false,"zero":false}},"fill":{"field":"l","type":"nominal","legend":null,"scale":{"domain":["5E-06","4E-06","3E-06","2E-06","1E-06","0E+00","-1E-06","-2E-06","-3E-06","-4E-06","-5E-06","-6E-06","min"],"range":["#ffffff","#ebebeb","#d5d5d5","#bcbcbc","#a6a6a6","#999999","#8a8a8a","#6e6e6e","#585858","#444444","#303030","#181818","#000000"]}}},
"layer":[
{"data":{"values":[{"l":"-1E-06","x":784,"y":785}]},"mark":{"type":"arc","radius":409,"theta":0,"theta2":6.2832}},
{"data":{"name":"b"},"mark":{"type":"line","filled":true,"interpolate":"linear-closed","strokeWidth":0,"order":null},"encoding":{"detail":{"field":"p"},"order":{"value":null}}},
{"data":{"values":[{"x":784,"y":785}]},"mark":{"type":"arc","radius":470,"radius2":409,"theta":0,"theta2":6.2832},"encoding":{"fill":{"value":"#ffffff"}}},
{"data":{"values":[{"l":"5E-06","x":-530.6,"x2":-457.6,"y":-21.9,"y2":48.6},{"l":"4E-06","x":-530.6,"x2":-457.6,"y":48.6,"y2":169.6},{"l":"3E-06","x":-530.6,"x2":-457.6,"y":169.6,"y2":291.7},{"l":"2E-06","x":-530.6,"x2":-457.6,"y":291.7,"y2":413.9},{"l":"1E-06","x":-530.6,"x2":-457.6,"y":413.9,"y2":536},{"l":"0E+00","x":-530.6,"x2":-457.6,"y":536,"y2":658.2},{"l":"-1E-06","x":-530.6,"x2":-457.6,"y":658.2,"y2":780.3},{"l":"-2E-06","x":-530.6,"x2":-457.6,"y":780.3,"y2":908.9},{"l":"-3E-06","x":-530.6,"x2":-457.6,"y":908.9,"y2":1031},{"l":"-4E-06","x":-530.6,"x2":-457.6,"y":1031,"y2":1152.4},{"l":"-5E-06","x":-530.6,"x2":-457.6,"y":1152.4,"y2":1274.5},{"l":"-6E-06","x":-530.6,"x2":-457.6,"y":1274.5,"y2":1394.8},{"l":"min","x":-530.6,"x2":-457.6,"y":1394.8,"y2":1462.3}]},"mark":{"type":"rect","stroke":"#000000","strokeWidth":2},"encoding":{"x2":{"field":"x2"},"y2":{"field":"y2"}}},
{"data":{"values":[{"t":"5E−06","x":-426.7,"y":48.6},{"t":"4E−06","x":-426.7,"y":169.6},{"t":"3E−06","x":-426.7,"y":291.7},{"t":"2E−06","x":-426.7,"y":413.9},{"t":"1E−06","x":-426.7,"y":536},{"t":"0E+00","x":-426.7,"y":658.2},{"t":"−1E−06","x":-426.7,"y":780.3},{"t":"−2E−06","x":-426.7,"y":908.9},{"t":"−3E−06","x":-426.7,"y":1031},{"t":"−4E−06","x":-426.7,"y":1152.4},{"t":"−5E−06","x":-426.7,"y":1274.5},{"t":"−6E−06","x":-426.7,"y":1394.8}]},"mark":{"type":"text","align":"left","baseline":"middle","font":"Liberation Serif","fontSize":65},"encoding":{"text":{"field":"t"},"fill":{"value":"#1a1a1a"}}},
{"data":{"values":[{"t":"MAX: 6.01E−06","x":-536,"y":-209.7},{"t":"MIX: −6.49E−06","x":-536,"y":-67.5}]},"mark":{"type":"text","clip":true,"align":"left","baseline":"alphabetic","font":"Liberation Serif","fontSize":66},"encoding":{"text":{"field":"t"},"fill":{"value":"#1a1a1a"}}},
{"data":{"values":[{"t":"(b)","x":616.3,"y":1728.5}]},"mark":{"type":"text","clip":true,"align":"left","baseline":"alphabetic","font":"Liberation Serif","fontSize":72},"encoding":{"text":{"field":"t"},"fill":{"value":"#1a1a1a"}}},
{"data":{"values":[{"t":"S","x":804,"y":1728.5}]},"mark":{"type":"text","clip":true,"align":"left","baseline":"alphabetic","font":"Liberation Serif","fontStyle":"italic","fontSize":72},"encoding":{"text":{"field":"t"},"fill":{"value":"#1a1a1a"}}},
{"data":{"values":[{"t":"yy","x":875,"y":1754}]},"mark":{"type":"text","clip":true,"align":"left","baseline":"alphabetic","font":"Liberation Serif","fontStyle":"italic","fontSize":40},"encoding":{"text":{"field":"t"},"fill":{"value":"#1a1a1a"}}}
]},
{"width":1261,"height":1128,
"encoding":{"x":{"field":"x","type":"quantitative","axis":null,"scale":{"domain":[-623.6,1675.6],"nice":false,"zero":false}},"y":{"field":"y","type":"quantitative","axis":null,"scale":{"domain":[1765,-291.7],"nice":false,"zero":false}},"fill":{"field":"l","type":"nominal","legend":null,"scale":{"domain":["7E-06","6E-06","5E-06","4E-06","3E-06","2E-06","1E-06","0E+00","-1E-06","-2E-06","-3E-06","-4E-06","min"],"range":["#ffffff","#ebebeb","#d5d5d5","#bcbcbc","#a6a6a6","#999999","#8a8a8a","#6e6e6e","#585858","#444444","#303030","#181818","#000000"]}}},
"layer":[
{"data":{"values":[{"l":"-1E-06","x":786,"y":784}]},"mark":{"type":"arc","radius":409,"theta":0,"theta2":6.2832}},
{"data":{"name":"c"},"mark":{"type":"line","filled":true,"interpolate":"linear-closed","strokeWidth":0,"order":null},"encoding":{"detail":{"field":"p"},"order":{"value":null}}},
{"data":{"values":[{"x":786,"y":784}]},"mark":{"type":"arc","radius":470,"radius2":409,"theta":0,"theta2":6.2832},"encoding":{"fill":{"value":"#ffffff"}}},
{"data":{"values":[{"l":"7E-06","x":-508.7,"x2":-437.6,"y":-21.9,"y2":48.6},{"l":"6E-06","x":-508.7,"x2":-437.6,"y":48.6,"y2":169.6},{"l":"5E-06","x":-508.7,"x2":-437.6,"y":169.6,"y2":291.7},{"l":"4E-06","x":-508.7,"x2":-437.6,"y":291.7,"y2":413.9},{"l":"3E-06","x":-508.7,"x2":-437.6,"y":413.9,"y2":536},{"l":"2E-06","x":-508.7,"x2":-437.6,"y":536,"y2":658.2},{"l":"1E-06","x":-508.7,"x2":-437.6,"y":658.2,"y2":780.3},{"l":"0E+00","x":-508.7,"x2":-437.6,"y":780.3,"y2":908.9},{"l":"-1E-06","x":-508.7,"x2":-437.6,"y":908.9,"y2":1031},{"l":"-2E-06","x":-508.7,"x2":-437.6,"y":1031,"y2":1152.4},{"l":"-3E-06","x":-508.7,"x2":-437.6,"y":1152.4,"y2":1274.5},{"l":"-4E-06","x":-508.7,"x2":-437.6,"y":1274.5,"y2":1394.8},{"l":"min","x":-508.7,"x2":-437.6,"y":1394.8,"y2":1462.3}]},"mark":{"type":"rect","stroke":"#000000","strokeWidth":2},"encoding":{"x2":{"field":"x2"},"y2":{"field":"y2"}}},
{"data":{"values":[{"t":"7E−06","x":-404.8,"y":48.6},{"t":"6E−06","x":-404.8,"y":169.6},{"t":"5E−06","x":-404.8,"y":291.7},{"t":"4E−06","x":-404.8,"y":413.9},{"t":"3E−06","x":-404.8,"y":536},{"t":"2E−06","x":-404.8,"y":658.2},{"t":"1E−06","x":-404.8,"y":780.3},{"t":"0E+00","x":-404.8,"y":908.9},{"t":"−1E−06","x":-404.8,"y":1031},{"t":"−2E−06","x":-404.8,"y":1152.4},{"t":"−3E−06","x":-404.8,"y":1274.5},{"t":"−4E−06","x":-404.8,"y":1394.8}]},"mark":{"type":"text","align":"left","baseline":"middle","font":"Liberation Serif","fontSize":65},"encoding":{"text":{"field":"t"},"fill":{"value":"#1a1a1a"}}},
{"data":{"values":[{"t":"MAX: 7.45E−06","x":-516,"y":-209.7},{"t":"MIX: −5.25E−06","x":-516,"y":-67.5}]},"mark":{"type":"text","clip":true,"align":"left","baseline":"alphabetic","font":"Liberation Serif","fontSize":66},"encoding":{"text":{"field":"t"},"fill":{"value":"#1a1a1a"}}},
{"data":{"values":[{"t":"(c)","x":607.2,"y":1724.8}]},"mark":{"type":"text","clip":true,"align":"left","baseline":"alphabetic","font":"Liberation Serif","fontSize":72},"encoding":{"text":{"field":"t"},"fill":{"value":"#1a1a1a"}}},
{"data":{"values":[{"t":"S","x":793,"y":1724.8}]},"mark":{"type":"text","clip":true,"align":"left","baseline":"alphabetic","font":"Liberation Serif","fontStyle":"italic","fontSize":72},"encoding":{"text":{"field":"t"},"fill":{"value":"#1a1a1a"}}},
{"data":{"values":[{"t":"xy","x":862.4,"y":1750.4}]},"mark":{"type":"text","clip":true,"align":"left","baseline":"alphabetic","font":"Liberation Serif","fontStyle":"italic","fontSize":40},"encoding":{"text":{"field":"t"},"fill":{"value":"#1a1a1a"}}}
]}
]}
